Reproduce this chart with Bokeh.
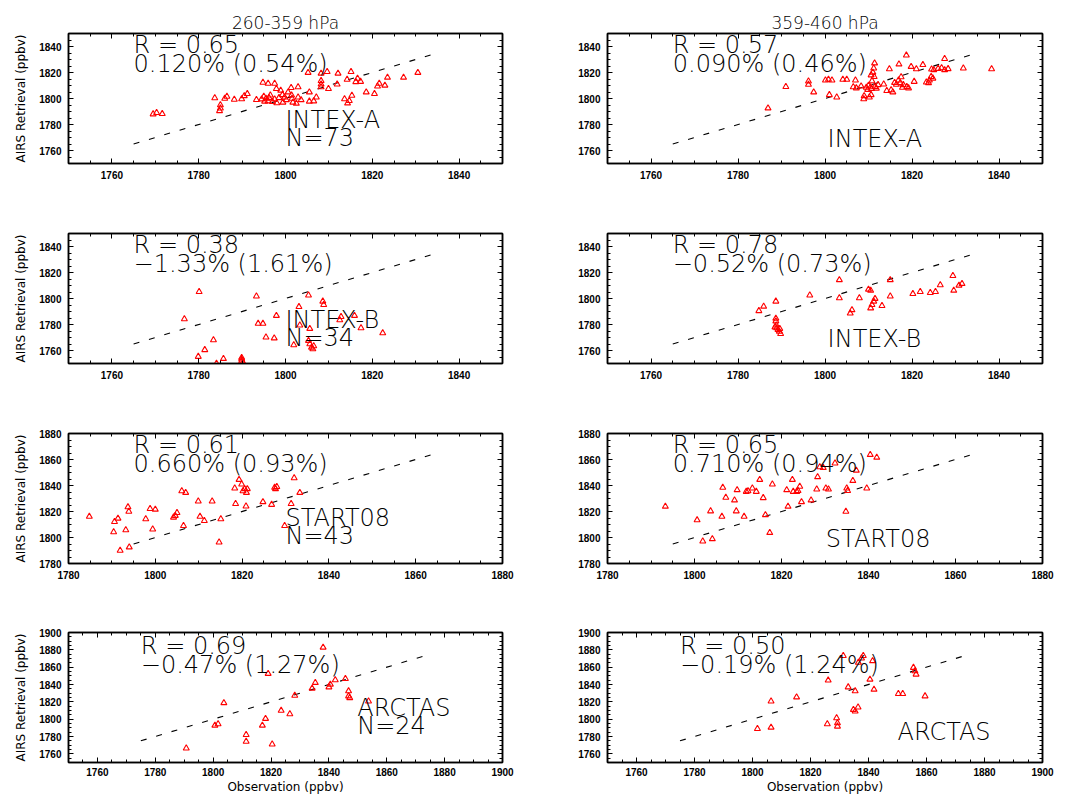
from bokeh.plotting import figure
from bokeh.models import Range1d, LinearAxis, Label, SingleIntervalTicker, CustomLabelingPolicy
from bokeh.layouts import gridplot
from bokeh.embed import file_html
from bokeh.resources import INLINE

# ---------------- data ----------------
column_titles = ["260-359 hPa", "359-460 hPa"]
campaigns = ["INTEX-A", "INTEX-B", "START08", "ARCTAS"]
n_left = ["N=73", "N=34", "N=43", "N=24"]
r_left = ["R = 0.65", "R = 0.38", "R = 0.61", "R = 0.69"]
bias_left = ["0.120% (0.54%)", "\u22121.33% (1.61%)", "0.660% (0.93%)", "\u22120.47% (1.27%)"]
r_right = ["R = 0.57", "R = 0.78", "R = 0.65", "R = 0.50"]
bias_right = ["0.090% (0.46%)", "\u22120.52% (0.73%)", "0.710% (0.94%)", "\u22120.19% (1.24%)"]

intexa_line = [1765, 1835]
intexb_line = [1765, 1835]
start08_line = [1795, 1865]
arctas_line = [1775, 1875]

intexa_260_obs = [1769.5, 1770.3, 1771.6, 1783.7, 1785.0, 1785.0, 1784.8, 1786.0, 1786.5, 1788.2,
                  1789.9, 1790.5, 1791.2, 1793.3, 1794.8, 1796.0, 1797.5, 1797.9, 1794.5, 1795.0,
                  1795.5, 1796.0, 1796.5, 1797.0, 1797.5, 1798.0, 1798.5, 1796.2, 1795.2, 1798.9,
                  1799.3, 1799.4, 1799.8, 1800.2, 1800.6, 1801.4, 1801.7, 1801.3, 1802.9, 1802.9,
                  1803.6, 1802.5, 1805.5, 1805.5, 1806.5, 1807.1, 1805.2, 1808.2, 1809.6, 1808.2,
                  1808.2, 1808.2, 1809.9, 1811.9, 1812.1, 1815.1, 1814.2, 1816.6, 1817.3, 1816.2,
                  1813.6, 1814.7, 1814.3, 1815.3, 1818.6, 1820.5, 1821.6, 1821.2, 1822.9, 1823.5,
                  1827.2, 1830.5, 1801.5]
intexa_260_ret = [1788.0, 1789.0, 1788.2, 1800.4, 1795.0, 1792.5, 1790.5, 1800.0, 1801.5, 1799.2,
                  1799.6, 1802.0, 1803.6, 1799.0, 1812.3, 1811.5, 1811.5, 1807.5, 1799.5, 1801.5,
                  1800.0, 1798.0, 1802.5, 1797.5, 1799.5, 1796.5, 1800.5, 1800.5, 1797.8, 1806.2,
                  1802.8, 1797.0, 1801.0, 1798.9, 1804.9, 1802.5, 1797.0, 1808.3, 1808.8, 1801.0,
                  1798.9, 1796.2, 1804.9, 1797.8, 1798.0, 1801.0, 1819.9, 1819.3, 1820.6, 1813.6,
                  1810.9, 1808.8, 1807.5, 1810.9, 1819.3, 1820.6, 1814.6, 1815.4, 1813.0, 1812.8,
                  1799.6, 1798.3, 1796.4, 1802.3, 1804.9, 1803.6, 1811.5, 1809.4, 1810.1, 1816.2,
                  1816.2, 1819.9, 1800.0]

intexa_359_obs = [1786.9, 1791.0, 1796.2, 1796.2, 1797.4, 1800.1, 1800.8, 1801.6, 1801.0, 1802.7,
                  1804.1, 1805.0, 1807.2, 1806.5, 1807.0, 1811.4, 1811.2, 1811.0, 1810.6, 1811.3,
                  1810.8, 1809.5, 1810.0, 1810.7, 1811.5, 1812.2, 1809.8, 1810.5, 1811.8, 1810.2,
                  1810.6, 1809.0, 1808.9, 1814.8, 1817.0, 1818.7, 1816.0, 1816.4, 1815.6, 1815.2,
                  1816.9, 1817.3, 1818.0, 1818.8, 1819.2, 1817.8, 1817.5, 1821.0, 1822.5, 1823.3,
                  1824.0, 1824.4, 1824.8, 1823.8, 1824.5, 1825.0, 1826.0, 1826.8, 1827.5, 1828.3,
                  1827.5, 1831.8, 1838.3, 1813.5, 1814.2, 1820.5, 1819.8, 1808.3]
intexa_359_ret = [1792.6, 1809.0, 1813.3, 1810.7, 1804.9, 1814.0, 1814.6, 1814.0, 1802.8, 1801.0,
                  1814.6, 1814.6, 1808.0, 1808.8, 1814.0, 1827.2, 1823.3, 1820.1, 1818.0, 1816.7,
                  1813.5, 1808.5, 1810.0, 1807.5, 1809.0, 1810.5, 1806.8, 1808.8, 1807.8, 1801.0,
                  1802.8, 1802.0, 1799.6, 1822.7, 1826.4, 1833.2, 1812.2, 1810.7, 1804.9, 1806.5,
                  1814.0, 1812.0, 1810.5, 1809.0, 1808.0, 1808.5, 1816.5, 1822.7, 1825.9, 1812.5,
                  1814.0, 1816.7, 1815.5, 1812.0, 1822.5, 1822.0, 1823.0, 1823.5, 1822.0, 1822.8,
                  1830.6, 1823.3, 1822.7, 1811.0, 1806.0, 1813.0, 1824.5, 1809.5]

intexb_260_obs = [1780.1, 1776.7, 1779.9, 1781.4, 1783.4, 1784.1, 1785.7, 1789.9, 1789.9, 1789.9,
                  1793.3, 1793.7, 1794.8, 1795.5, 1797.4, 1797.9, 1803.1, 1803.3, 1801.9, 1805.3,
                  1805.6, 1805.3, 1805.6, 1806.0, 1806.3, 1808.6, 1808.8, 1812.8, 1815.9, 1817.4,
                  1822.4, 1812.5, 1790.2, 1806.5]
intexb_260_ret = [1805.2, 1784.2, 1755.3, 1760.5, 1768.1, 1750.0, 1753.7, 1754.5, 1751.9, 1753.2,
                  1801.7, 1780.7, 1780.7, 1770.2, 1769.5, 1786.8, 1793.6, 1779.4, 1764.2, 1802.5,
                  1776.8, 1767.6, 1765.0, 1762.4, 1761.1, 1797.8, 1795.2, 1786.0, 1786.8, 1777.3,
                  1773.4, 1783.5, 1751.0, 1763.5]

intexb_359_obs = [1784.8, 1785.9, 1788.7, 1788.7, 1788.7, 1788.5, 1788.9, 1789.2, 1789.5, 1789.8,
                  1788.8, 1789.6, 1796.5, 1803.3, 1803.3, 1805.8, 1806.2, 1807.9, 1810.0, 1810.5,
                  1810.5, 1810.8, 1811.2, 1811.5, 1813.1, 1815.0, 1815.0, 1820.2, 1821.9, 1824.2,
                  1825.4, 1826.5, 1829.4, 1829.6, 1830.8, 1831.5]
intexb_359_ret = [1790.5, 1793.9, 1797.8, 1784.7, 1782.6, 1778.0, 1777.3, 1776.0, 1774.7, 1772.9,
                  1779.4, 1776.8, 1802.5, 1814.3, 1800.4, 1788.6, 1791.2, 1800.4, 1807.0, 1806.2,
                  1792.6, 1795.2, 1797.8, 1799.9, 1794.4, 1814.3, 1801.7, 1803.6, 1805.2, 1804.4,
                  1805.2, 1810.4, 1817.5, 1806.2, 1810.1, 1811.4]

start08_260_obs = [1784.8, 1790.6, 1790.4, 1791.4, 1791.9, 1793.2, 1793.7, 1793.9, 1794.0, 1797.8,
                   1798.8, 1800.0, 1799.4, 1804.2, 1804.6, 1805.0, 1806.1, 1807.0, 1806.5, 1809.9,
                   1810.3, 1811.3, 1813.1, 1814.7, 1815.1, 1818.3, 1818.5, 1819.3, 1819.9, 1820.2,
                   1820.6, 1821.0, 1821.2, 1820.9, 1824.8, 1826.8, 1827.5, 1827.7, 1829.8, 1831.3,
                   1832.0, 1833.3, 1828.0]
start08_260_ret = [1816.1, 1812.1, 1804.2, 1814.7, 1790.0, 1805.8, 1823.4, 1820.0, 1792.6, 1814.2,
                   1822.1, 1821.6, 1806.3, 1815.5, 1816.8, 1819.0, 1835.8, 1834.5, 1809.0, 1827.9,
                   1816.1, 1812.9, 1827.9, 1796.3, 1814.2, 1837.9, 1826.0, 1844.5, 1841.0, 1835.8,
                   1837.4, 1834.5, 1837.4, 1824.0, 1827.4, 1825.3, 1838.4, 1837.4, 1809.0, 1826.0,
                   1845.8, 1834.5, 1839.0]

start08_359_obs = [1793.3, 1800.6, 1801.9, 1803.7, 1804.1, 1806.3, 1806.5, 1807.2, 1809.2, 1809.6,
                   1809.8, 1811.4, 1811.9, 1812.3, 1813.3, 1814.2, 1815.0, 1815.8, 1816.3, 1817.3,
                   1817.9, 1821.2, 1821.5, 1822.5, 1822.7, 1823.5, 1824.2, 1823.8, 1824.6, 1826.8,
                   1828.1, 1828.3, 1828.8, 1829.6, 1830.2, 1830.8, 1832.3, 1835.0, 1835.2, 1834.8,
                   1836.4, 1837.2, 1839.6, 1840.4, 1841.9]
start08_359_ret = [1823.9, 1813.4, 1797.1, 1820.3, 1798.9, 1816.1, 1838.4, 1830.8, 1828.7, 1820.3,
                   1836.6, 1816.1, 1835.3, 1835.8, 1837.9, 1835.3, 1844.5, 1830.5, 1817.4, 1803.7,
                   1841.0, 1836.6, 1823.9, 1844.5, 1835.3, 1835.3, 1839.2, 1836.0, 1827.4, 1828.7,
                   1837.1, 1846.6, 1854.2, 1853.7, 1837.9, 1837.1, 1857.1, 1837.9, 1836.0, 1820.0,
                   1843.7, 1851.6, 1837.9, 1863.7, 1861.6]

arctas_260_obs = [1790.7, 1800.6, 1801.7, 1803.7, 1811.4, 1811.4, 1817.0, 1818.1, 1819.0, 1820.4,
                  1823.5, 1826.5, 1828.2, 1834.2, 1835.3, 1838.0, 1840.0, 1840.5, 1842.2, 1845.7,
                  1846.8, 1846.8, 1847.2, 1853.7]
arctas_260_ret = [1766.5, 1792.8, 1794.4, 1818.8, 1782.0, 1774.2, 1792.8, 1800.6, 1852.5, 1771.1,
                  1809.9, 1806.0, 1827.3, 1835.5, 1842.1, 1882.8, 1837.0, 1840.1, 1845.2, 1846.7,
                  1832.4, 1826.6, 1824.6, 1820.7]

arctas_359_obs = [1801.7, 1806.4, 1806.4, 1815.2, 1825.8, 1826.1, 1829.0, 1829.3, 1829.3, 1831.3,
                  1833.0, 1835.4, 1835.4, 1834.8, 1836.4, 1836.5, 1837.6, 1838.2, 1840.5, 1841.4,
                  1841.9, 1850.3, 1851.8, 1855.5, 1856.0, 1856.4, 1859.5]
arctas_359_ret = [1789.0, 1790.5, 1820.7, 1825.4, 1794.4, 1844.8, 1801.4, 1795.5, 1791.7, 1873.1,
                  1837.0, 1832.4, 1809.1, 1811.0, 1813.8, 1865.3, 1870.3, 1873.1, 1845.9, 1867.2,
                  1834.3, 1829.3, 1829.3, 1859.5, 1855.6, 1851.7, 1826.6]

# ---------------- layout settings ----------------
row_cfg = [
    dict(xr=(1750, 1850), yr=(1750, 1850), line=intexa_line,
         data=[(intexa_260_obs, intexa_260_ret), (intexa_359_obs, intexa_359_ret)],
         name_xy=[(1800, 1777.5), (1800.6, 1763)]),
    dict(xr=(1750, 1850), yr=(1750, 1850), line=intexb_line,
         data=[(intexb_260_obs, intexb_260_ret), (intexb_359_obs, intexb_359_ret)],
         name_xy=[(1800, 1777.5), (1800.6, 1763)]),
    dict(xr=(1780, 1880), yr=(1780, 1880), line=start08_line,
         data=[(start08_260_obs, start08_260_ret), (start08_359_obs, start08_359_ret)],
         name_xy=[(1830, 1808.5), (1830.2, 1793)]),
    dict(xr=(1750, 1900), yr=(1750, 1900), line=arctas_line,
         data=[(arctas_260_obs, arctas_260_ret), (arctas_359_obs, arctas_359_ret)],
         name_xy=[(1849.8, 1803.5), (1850, 1776)]),
]

FONT = "DejaVu Sans"
BIGFONT = "'DejaVu Sans Light', 'DejaVu Sans'"
TICKFONT = "Liberation Sans"
TXT_SHIFT = 8  # raise the in-frame texts to sit on their baselines


def style_axis(ax):
    ax.major_tick_in = 5
    ax.major_tick_out = 0
    ax.minor_tick_in = 3
    ax.minor_tick_out = 0
    ax.axis_line_width = 1.5
    ax.axis_line_color = "black"
    ax.major_tick_line_color = "black"
    ax.minor_tick_line_color = "black"


def make_panel(ri, ci):
    cfg = row_cfg[ri]
    last = ri == 3
    h = 196 if last else 200
    p = figure(width=534, height=h,
               x_range=Range1d(*cfg["xr"]), y_range=Range1d(*cfg["yr"]),
               output_backend="svg", toolbar_location=None,
               min_border_left=68 if ci == 0 else 73,
               min_border_right=32 if ci == 0 else 26,
               min_border_top=32 if last else 33,
               min_border_bottom=34 if last else 37)
    p.background_fill_color = "white"
    p.border_fill_color = "white"
    p.outline_line_color = "black"
    p.outline_line_width = 1.5
    p.xgrid.visible = False
    p.ygrid.visible = False

    xa = p.below[0]
    ya = p.left[0]
    xa.ticker = SingleIntervalTicker(interval=20, num_minor_ticks=4)
    ya.ticker = SingleIntervalTicker(interval=20, num_minor_ticks=4)
    for ax in (xa, ya):
        style_axis(ax)
        ax.major_label_text_font = TICKFONT
        ax.major_label_text_font_style = "bold"
        ax.major_label_text_font_size = "10px"
        ax.major_label_text_color = "black"
        ax.major_label_standoff = 7

    extra = {}
    for loc in ("above", "right"):
        ax = LinearAxis(ticker=SingleIntervalTicker(interval=20, num_minor_ticks=4),
                        major_label_policy=CustomLabelingPolicy(
                            code="for (const i of Array.from(indices)) { indices.unset(i) }\nreturn indices"),
                        major_label_text_font_size="1px",
                        major_label_standoff=0)
        style_axis(ax)
        p.add_layout(ax, loc)
        extra[loc] = ax

    if ci == 0:
        ya.axis_label = "AIRS Retrieval (ppbv)"
        ya.axis_label_text_font = FONT
        ya.axis_label_text_font_style = "normal"
        ya.axis_label_text_font_size = "12px"
        ya.axis_label_text_color = "black"
        ya.axis_label_standoff = 8
    if last:
        xa.axis_label = "Observation (ppbv)"
        xa.axis_label_text_font = FONT
        xa.axis_label_text_font_style = "normal"
        xa.axis_label_text_font_size = "12px"
        xa.axis_label_text_color = "black"
        xa.axis_label_standoff = 1
        xa.major_label_standoff = 5
    if ri == 0:
        top = extra["above"]
        top.axis_label = column_titles[ci]
        top.axis_label_text_font = BIGFONT
        top.axis_label_text_font_style = "normal"
        top.axis_label_text_font_size = "17px"
        top.axis_label_text_color = "black"
        top.axis_label_standoff = -3

    line = cfg["line"]
    p.line(x=line, y=line, line_color="black", line_width=1.1, line_dash="6 10")

    obs, ret = cfg["data"][ci]
    p.scatter(x=obs, y=ret, marker="triangle", size=6, fill_color=None,
              line_color="red", line_width=1.1)

    rtxt = r_left[ri] if ci == 0 else r_right[ri]
    btxt = bias_left[ri] if ci == 0 else bias_right[ri]
    for k, t in enumerate((rtxt, btxt)):
        p.add_layout(Label(x=line[0], y=line[1], text=t, text_font=BIGFONT,
                           text_font_size="24px", text_color="black",
                           text_baseline="alphabetic", y_offset=TXT_SHIFT - 19 * k))
    nx, ny = cfg["name_xy"][ci]
    p.add_layout(Label(x=nx, y=ny, y_offset=TXT_SHIFT, text=campaigns[ri], text_font=BIGFONT,
                       text_font_size="24px", text_color="black", text_baseline="alphabetic"))
    if ci == 0:
        p.add_layout(Label(x=nx, y=ny, y_offset=TXT_SHIFT - 18, text=n_left[ri], text_font=BIGFONT,
                           text_font_size="24px", text_color="black", text_baseline="alphabetic"))
    return p


grid = [[make_panel(r, c) for c in range(2)] for r in range(4)]
layout = gridplot(grid, toolbar_location=None)

open("out.html", "w").write(file_html(layout, INLINE))
